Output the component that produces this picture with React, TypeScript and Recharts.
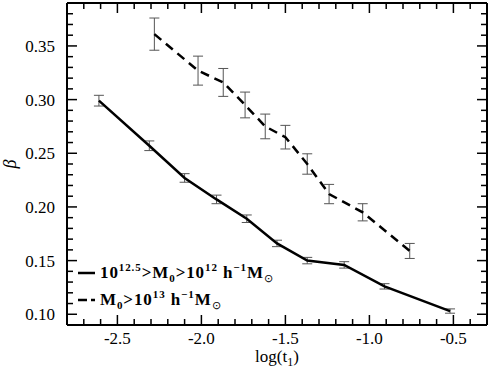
import { ComposedChart, ErrorBar, Line, XAxis, YAxis } from "recharts";

// solid: 10^12.5 > M0 > 10^12
const solidLogT = [-2.61, -2.31, -2.1, -1.91, -1.73, -1.55, -1.37, -1.15, -0.91, -0.52];
const solidBeta = [0.299, 0.257, 0.227, 0.207, 0.189, 0.166, 0.150, 0.146, 0.126, 0.103];
const solidErr = [0.005, 0.0045, 0.004, 0.004, 0.0035, 0.003, 0.003, 0.003, 0.0025, 0.002];

// dashed: M0 > 10^13
const dashedLogT = [-2.28, -2.02, -1.87, -1.74, -1.62, -1.5, -1.37, -1.24, -1.04, -0.76];
const dashedBeta = [0.361, 0.327, 0.316, 0.295, 0.275, 0.265, 0.240, 0.212, 0.195, 0.159];
const dashedErr = [0.015, 0.0135, 0.013, 0.012, 0.0115, 0.011, 0.0095, 0.009, 0.008, 0.007];

const xDomain = [-2.8, -0.3];
const yDomain = [0.09, 0.39];
const xMajor = [-2.5, -2.0, -1.5, -1.0, -0.5];
const yMajor = [0.1, 0.15, 0.2, 0.25, 0.3, 0.35];

// minor ticks every 0.1 / 0.01 inside the frame
const xMinor: number[] = [];
for (let i = -27; i <= -4; i++) xMinor.push(i / 10);
const yMinor: number[] = [];
for (let i = 10; i <= 38; i++) yMinor.push(i / 100);

const solidData = solidLogT.map((x, i) => ({ x, y: solidBeta[i], err: solidErr[i] }));
const dashedData = dashedLogT.map((x, i) => ({ x, y: dashedBeta[i], err: dashedErr[i] }));

const font = "'Liberation Serif', 'Times New Roman', serif";
const isMajorX = (v: number) => xMajor.some((m) => Math.abs(m - v) < 1e-6);
const isMajorY = (v: number) => yMajor.some((m) => Math.abs(m - v) < 1e-6);

// tick anchor points on the four frame edges; drawn as dots of a hidden line
const framePoints = [
  ...xMinor.map((v) => ({ x: v, y: yDomain[0], side: "bottom", major: isMajorX(v) })),
  ...xMinor.map((v) => ({ x: v, y: yDomain[1], side: "top", major: isMajorX(v) })),
  ...yMinor.map((v) => ({ x: xDomain[0], y: v, side: "left", major: isMajorY(v) })),
  ...yMinor.map((v) => ({ x: xDomain[1], y: v, side: "right", major: isMajorY(v) })),
];

const tickDot = (p: any) => {
  const { cx, cy, payload, index } = p;
  const len = payload.major ? 10 : 6;
  let x2 = cx;
  let y2 = cy;
  if (payload.side === "bottom") y2 = cy - len;
  if (payload.side === "top") y2 = cy + len;
  if (payload.side === "left") x2 = cx + len;
  if (payload.side === "right") x2 = cx - len;
  return <path key={`tk${index}`} d={`M${cx},${cy}L${x2},${y2}`} style={{ stroke: "#000", strokeWidth: 1.5, fill: "none" }} />;
};

const bottomLabel = (p: any) =>
  isMajorX(p.payload.value) ? (
    <text x={p.x} y={p.y + 19} textAnchor="middle" fontFamily={font} fontSize={17} fill="#000">
      {p.payload.value.toFixed(1)}
    </text>
  ) : (
    <g />
  );

const leftLabel = (p: any) =>
  isMajorY(p.payload.value) ? (
    <text x={p.x - 12} y={p.y + 6} textAnchor="end" fontFamily={font} fontSize={17} fill="#000">
      {p.payload.value.toFixed(2)}
    </text>
  ) : (
    <g />
  );

const sup = { fontSize: 11, verticalAlign: "7px" } as const;
const sub = { fontSize: 11, verticalAlign: "-4px" } as const;
const sun = { fontSize: 11, verticalAlign: "-4px", fontWeight: 400 } as const;

function LegendBox() {
  const row = { display: "flex", alignItems: "center", height: 27 } as const;
  return (
    <div
      style={{
        position: "absolute",
        left: 78,
        top: 259,
        fontFamily: font,
        fontSize: 17,
        fontWeight: 700,
        letterSpacing: "0.9px",
        color: "#000",
        whiteSpace: "nowrap",
      }}
    >
      <div style={row}>
        <svg width={17} height={10} style={{ marginRight: 5 }}>
          <line x1={0} x2={17} y1={5} y2={5} stroke="#000" strokeWidth={2.5} />
        </svg>
        <span>
          10<span style={sup}>12.5</span>&gt;M<span style={sub}>0</span>&gt;10<span style={sup}>12</span> h
          <span style={sup}>−1</span>M<span style={sun}>⊙</span>
        </span>
      </div>
      <div style={row}>
        <svg width={17} height={10} style={{ marginRight: 5 }}>
          <line x1={0} x2={17} y1={5} y2={5} stroke="#000" strokeWidth={2.5} strokeDasharray="9 4" />
        </svg>
        <span>
          M<span style={sub}>0</span>&gt;10<span style={sup}>13</span> h<span style={sup}>−1</span>M
          <span style={sun}>⊙</span>
        </span>
      </div>
    </div>
  );
}

export default function App() {
  return (
    <div style={{ position: "absolute", left: 0, top: 0, width: 489, height: 368 }}>
      <ComposedChart width={489} height={368} margin={{ top: 2, right: 1, left: 0, bottom: 0 }}>
        <XAxis
          type="number"
          dataKey="x"
          domain={xDomain}
          ticks={xMajor}
          interval={0}
          height={43}
          tickSize={0}
          tickMargin={0}
          tick={bottomLabel}
          axisLine={{ stroke: "#000", strokeWidth: 2 }}
          tickLine={false}
          label={({ viewBox }: any) => (
            <text
              x={viewBox.x + viewBox.width / 2}
              y={viewBox.y + 37}
              textAnchor="middle"
              fontFamily={font}
              fontSize={17}
              fill="#000"
            >
              log(t<tspan fontSize={12} dy={4}>1</tspan>
              <tspan dy={-4}>)</tspan>
            </text>
          )}
        />
        <XAxis
          xAxisId="top"
          orientation="top"
          type="number"
          dataKey="x"
          domain={xDomain}
          height={1}
          tick={false}
          tickLine={false}
          axisLine={{ stroke: "#000", strokeWidth: 2 }}
        />
        <YAxis
          type="number"
          domain={yDomain}
          ticks={yMajor}
          interval={0}
          width={67}
          tickSize={0}
          tickMargin={0}
          tick={leftLabel}
          axisLine={{ stroke: "#000", strokeWidth: 2 }}
          tickLine={false}
          label={({ viewBox }: any) => (
            <text
              x={16}
              y={viewBox.y + viewBox.height / 2}
              textAnchor="middle"
              fontFamily={font}
              fontStyle="italic"
              fontSize={18}
              fill="#000"
              transform={`rotate(-90 16 ${viewBox.y + viewBox.height / 2})`}
            >
              β
            </text>
          )}
        />
        <YAxis
          yAxisId="right"
          orientation="right"
          type="number"
          domain={yDomain}
          width={1}
          tick={false}
          tickLine={false}
          axisLine={{ stroke: "#000", strokeWidth: 2 }}
        />
        {/* invisible series so the top/right frame axes get a domain */}
        <Line
          data={solidData}
          dataKey="y"
          xAxisId="top"
          yAxisId="right"
          stroke="transparent"
          dot={false}
          activeDot={false}
          isAnimationActive={false}
        />
        {/* inward frame ticks */}
        <Line
          data={framePoints}
          dataKey="y"
          stroke="transparent"
          dot={tickDot}
          activeDot={false}
          isAnimationActive={false}
        />
        <Line
          data={solidData}
          dataKey="y"
          stroke="#000"
          strokeWidth={2.5}
          dot={false}
          isAnimationActive={false}
        >
          <ErrorBar dataKey="err" direction="y" width={5} stroke="#555" strokeWidth={1} />
        </Line>
        <Line
          data={dashedData}
          dataKey="y"
          stroke="#000"
          strokeWidth={2.5}
          strokeDasharray="9 6"
          dot={false}
          isAnimationActive={false}
        >
          <ErrorBar dataKey="err" direction="y" width={5} stroke="#555" strokeWidth={1} />
        </Line>
      </ComposedChart>
      <LegendBox />
    </div>
  );
}
